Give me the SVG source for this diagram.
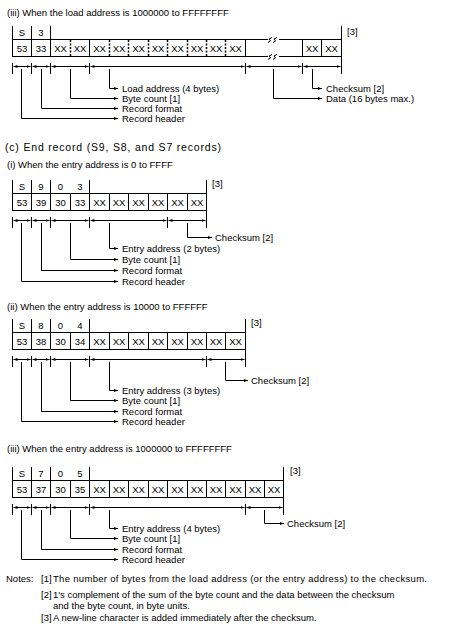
<svg xmlns="http://www.w3.org/2000/svg" width="474" height="629" viewBox="0 0 474 629">
<style>
text{font-family:"Liberation Sans",Arial,sans-serif;font-size:9.5px;fill:#000}
.m{text-anchor:middle}
.ln{stroke:#000;stroke-width:1;fill:none;shape-rendering:crispEdges}
.dot{stroke:#000;stroke-width:1.5;stroke-dasharray:2 1.5;fill:none}
.rul{stroke:#000;stroke-width:1;fill:none;marker-start:url(#ah);marker-end:url(#ah)}
.ldr{stroke:#000;stroke-width:1;fill:none;marker-end:url(#ah)}
</style>
<defs>
<marker id="ah" viewBox="0 0 4 4" refX="4" refY="2" markerWidth="4" markerHeight="4" orient="auto-start-reverse" markerUnits="userSpaceOnUse"><path d="M0,0.6 L4,2 L0,3.4z" fill="#000"/></marker>
</defs>
<rect width="474" height="629" fill="#fff"/>

<g id="titles">
<text x="7" y="16">(iii) When the load address is 1000000 to FFFFFFFF</text>
<text x="5" y="151" style="font-size:10.5px" textLength="216" lengthAdjust="spacing">(c) End record (S9, S8, and S7 records)</text>
<text x="7" y="168">(i) When the entry address is 0 to FFFF</text>
<text x="7" y="310">(ii) When the entry address is 10000 to FFFFFF</text>
<text x="7" y="452">(iii) When the entry address is 1000000 to FFFFFFFF</text>
</g>

<!-- S3 record, load address 4 bytes -->
<g id="rec-s3">
<path class="ln" d="M12.5,26V39.5M31.5,26V39.5M50.5,26V39.5M341.5,26V73.5"/>
<path class="ln" d="M12.5,39.5H341.5M12.5,56.5H341.5M12.5,39.5V56.5M31.5,39.5V56.5M50.5,39.5V56.5M89.5,39.5V56.5M245.5,39.5V56.5M302.5,39.5V56.5M321.5,39.5V56.5"/>
<path class="dot" d="M70.5,40V56M109.5,40V56M128.5,40V56M148.5,40V56M167.5,40V56M187.5,40V56M206.5,40V56M225.5,40V56"/>
<rect x="268" y="36" width="11" height="7" fill="#fff"/>
<rect x="268" y="53" width="11" height="7" fill="#fff"/>
<path d="M268,42.5l2.5-1.5l-1.5-2l3-1.5M273,42.5l2.5-1.5l-1.5-2l3-1.5M268,59.5l2.5-1.5l-1.5-2l3-1.5M273,59.5l2.5-1.5l-1.5-2l3-1.5" stroke="#000" fill="none"/>
<text class="m" x="22" y="36">S</text><text class="m" x="41" y="36">3</text>
<text x="347" y="35">[3]</text>
<text class="m" x="22" y="51.5">53</text><text class="m" x="41" y="51.5">33</text>
<text class="m" x="60.5" y="51.5">XX</text><text class="m" x="80" y="51.5">XX</text>
<text class="m" x="99.5" y="51.5">XX</text><text class="m" x="119" y="51.5">XX</text><text class="m" x="138.5" y="51.5">XX</text><text class="m" x="158" y="51.5">XX</text>
<text class="m" x="177.5" y="51.5">XX</text><text class="m" x="197" y="51.5">XX</text><text class="m" x="216" y="51.5">XX</text><text class="m" x="235.5" y="51.5">XX</text>
<text class="m" x="312" y="51.5">XX</text><text class="m" x="331.5" y="51.5">XX</text>
<path class="ln" d="M12.5,62.5V73.5M31.5,62.5V73.5M50.5,62.5V73.5M89.5,62.5V73.5M245.5,62.5V73.5M302.5,62.5V73.5"/>
<text x="122" y="92">Load address (4 bytes)</text>
<text x="122" y="102">Byte count [1]</text>
<text x="122" y="112">Record format</text>
<text x="122" y="122">Record header</text>
<text x="326" y="92">Checksum [2]</text>
<text x="326" y="102">Data (16 bytes max.)</text>
</g>

<!-- S9 -->
<g id="rec-s9">
<path class="ln" d="M12.5,180V193.5M31.5,180V193.5M50.5,180V193.5M89.5,180V193.5M206.5,180V227.5"/>
<path class="ln" d="M12.5,193.5H206.5M12.5,210.5H206.5M12.5,193.5V210.5M31.5,193.5V210.5M50.5,193.5V210.5M70.5,193.5V210.5M89.5,193.5V210.5M109.5,193.5V210.5M128.5,193.5V210.5M148.5,193.5V210.5M167.5,193.5V210.5M187.5,193.5V210.5"/>
<text class="m" x="22" y="190">S</text><text class="m" x="41" y="190">9</text><text class="m" x="60.5" y="190">0</text><text class="m" x="80" y="190">3</text>
<text x="212" y="187">[3]</text>
<text class="m" x="22" y="205.5">53</text><text class="m" x="41" y="205.5">39</text><text class="m" x="60.5" y="205.5">30</text><text class="m" x="80" y="205.5">33</text>
<text class="m" x="99.5" y="205.5">XX</text><text class="m" x="119" y="205.5">XX</text><text class="m" x="138.5" y="205.5">XX</text><text class="m" x="158" y="205.5">XX</text><text class="m" x="177.5" y="205.5">XX</text><text class="m" x="197" y="205.5">XX</text>
<path class="ln" d="M12.5,216.5V227.5M31.5,216.5V227.5M50.5,216.5V227.5M89.5,216.5V227.5M167.5,216.5V227.5"/>
<text x="215" y="241">Checksum [2]</text>
<text x="122" y="252">Entry address (2 bytes)</text>
<text x="122" y="263">Byte count [1]</text>
<text x="122" y="274">Record format</text>
<text x="122" y="285">Record header</text>
</g>

<!-- S8 -->
<g id="rec-s8">
<path class="ln" d="M12.5,319V332.5M31.5,319V332.5M50.5,319V332.5M89.5,319V332.5M245.5,319V366.5"/>
<path class="ln" d="M12.5,332.5H245.5M12.5,349.5H245.5M12.5,332.5V349.5M31.5,332.5V349.5M50.5,332.5V349.5M70.5,332.5V349.5M89.5,332.5V349.5M109.5,332.5V349.5M128.5,332.5V349.5M148.5,332.5V349.5M167.5,332.5V349.5M187.5,332.5V349.5M206.5,332.5V349.5M225.5,332.5V349.5"/>
<text class="m" x="22" y="329">S</text><text class="m" x="41" y="329">8</text><text class="m" x="60.5" y="329">0</text><text class="m" x="80" y="329">4</text>
<text x="251" y="326">[3]</text>
<text class="m" x="22" y="344.5">53</text><text class="m" x="41" y="344.5">38</text><text class="m" x="60.5" y="344.5">30</text><text class="m" x="80" y="344.5">34</text>
<text class="m" x="99.5" y="344.5">XX</text><text class="m" x="119" y="344.5">XX</text><text class="m" x="138.5" y="344.5">XX</text><text class="m" x="158" y="344.5">XX</text><text class="m" x="177.5" y="344.5">XX</text><text class="m" x="197" y="344.5">XX</text><text class="m" x="216" y="344.5">XX</text><text class="m" x="235.5" y="344.5">XX</text>
<path class="ln" d="M12.5,355.5V366.5M31.5,355.5V366.5M50.5,355.5V366.5M89.5,355.5V366.5M206.5,355.5V366.5"/>
<text x="251" y="384">Checksum [2]</text>
<text x="122" y="394">Entry address (3 bytes)</text>
<text x="122" y="404">Byte count [1]</text>
<text x="122" y="415">Record format</text>
<text x="122" y="425">Record header</text>
</g>

<!-- S7 -->
<g id="rec-s7">
<path class="ln" d="M12.5,467V480.5M31.5,467V480.5M50.5,467V480.5M89.5,467V480.5M283.5,467V514.5"/>
<path class="ln" d="M12.5,480.5H283.5M12.5,497.5H283.5M12.5,480.5V497.5M31.5,480.5V497.5M50.5,480.5V497.5M70.5,480.5V497.5M89.5,480.5V497.5M109.5,480.5V497.5M128.5,480.5V497.5M148.5,480.5V497.5M167.5,480.5V497.5M187.5,480.5V497.5M206.5,480.5V497.5M225.5,480.5V497.5M245.5,480.5V497.5M264.5,480.5V497.5"/>
<text class="m" x="22" y="477">S</text><text class="m" x="41" y="477">7</text><text class="m" x="60.5" y="477">0</text><text class="m" x="80" y="477">5</text>
<text x="290" y="474">[3]</text>
<text class="m" x="22" y="492.5">53</text><text class="m" x="41" y="492.5">37</text><text class="m" x="60.5" y="492.5">30</text><text class="m" x="80" y="492.5">35</text>
<text class="m" x="99.5" y="492.5">XX</text><text class="m" x="119" y="492.5">XX</text><text class="m" x="138.5" y="492.5">XX</text><text class="m" x="158" y="492.5">XX</text><text class="m" x="177.5" y="492.5">XX</text><text class="m" x="197" y="492.5">XX</text><text class="m" x="216" y="492.5">XX</text><text class="m" x="235.5" y="492.5">XX</text><text class="m" x="255" y="492.5">XX</text><text class="m" x="274" y="492.5">XX</text>
<path class="ln" d="M12.5,503.5V514.5M31.5,503.5V514.5M50.5,503.5V514.5M89.5,503.5V514.5M245.5,503.5V514.5"/>
<text x="287" y="527">Checksum [2]</text>
<text x="122" y="532">Entry address (4 bytes)</text>
<text x="122" y="542">Byte count [1]</text>
<text x="122" y="553">Record format</text>
<text x="122" y="563">Record header</text>
</g>

<g id="connectors">
<path class="rul" d="M13.5,66.5H30.5"/><path class="rul" d="M32.5,66.5H49.5"/><path class="rul" d="M51.5,66.5H88.5"/><path class="rul" d="M90.5,66.5H244.5"/><path class="rul" d="M246.5,66.5H301.5"/><path class="rul" d="M303.5,66.5H340.5"/>
<path class="rul" d="M13.5,220.5H30.5"/><path class="rul" d="M32.5,220.5H49.5"/><path class="rul" d="M51.5,220.5H88.5"/><path class="rul" d="M90.5,220.5H166.5"/><path class="rul" d="M168.5,220.5H205.5"/>
<path class="rul" d="M13.5,359.5H30.5"/><path class="rul" d="M32.5,359.5H49.5"/><path class="rul" d="M51.5,359.5H88.5"/><path class="rul" d="M90.5,359.5H205.5"/><path class="rul" d="M207.5,359.5H244.5"/>
<path class="rul" d="M13.5,507.5H30.5"/><path class="rul" d="M32.5,507.5H49.5"/><path class="rul" d="M51.5,507.5H88.5"/><path class="rul" d="M90.5,507.5H244.5"/><path class="rul" d="M246.5,507.5H282.5"/>
<path class="ldr" d="M21.5,69V118.5H118"/><path class="ldr" d="M41.5,69V108.5H118"/><path class="ldr" d="M70.5,69V98.5H118"/><path class="ldr" d="M109.5,69V88.5H118"/>
<path class="ldr" d="M273.5,69V98.5H322"/><path class="ldr" d="M312.5,69V88.5H322"/>
<path class="ldr" d="M21.5,223V281.5H118"/><path class="ldr" d="M41.5,223V270.5H118"/><path class="ldr" d="M70.5,223V259.5H118"/><path class="ldr" d="M109.5,223V248.5H118"/><path class="ldr" d="M187.5,223V237.5H212"/>
<path class="ldr" d="M21.5,362V421.5H118"/><path class="ldr" d="M41.5,362V411.5H118"/><path class="ldr" d="M70.5,362V400.5H118"/><path class="ldr" d="M109.5,362V390.5H118"/><path class="ldr" d="M225.5,362V380.5H248"/>
<path class="ldr" d="M21.5,510V559.5H118"/><path class="ldr" d="M41.5,510V549.5H118"/><path class="ldr" d="M70.5,510V538.5H118"/><path class="ldr" d="M109.5,510V528.5H118"/><path class="ldr" d="M264.5,510V523.5H284"/>
</g>

<g id="notes">
<text x="6" y="581.5">Notes:</text>
<text x="41" y="581.5">[1]</text>
<text x="53" y="581.5" textLength="374" lengthAdjust="spacing">The number of bytes from the load address (or the entry address) to the checksum.</text>
<text x="41" y="597.5">[2]</text>
<text x="53" y="597.5">1's complement of the sum of the byte count and the data between the checksum</text>
<text x="53" y="608.5">and the byte count, in byte units.</text>
<text x="41" y="620.5">[3]</text>
<text x="53" y="620.5">A new-line character is added immediately after the checksum.</text>
</g>
</svg>
